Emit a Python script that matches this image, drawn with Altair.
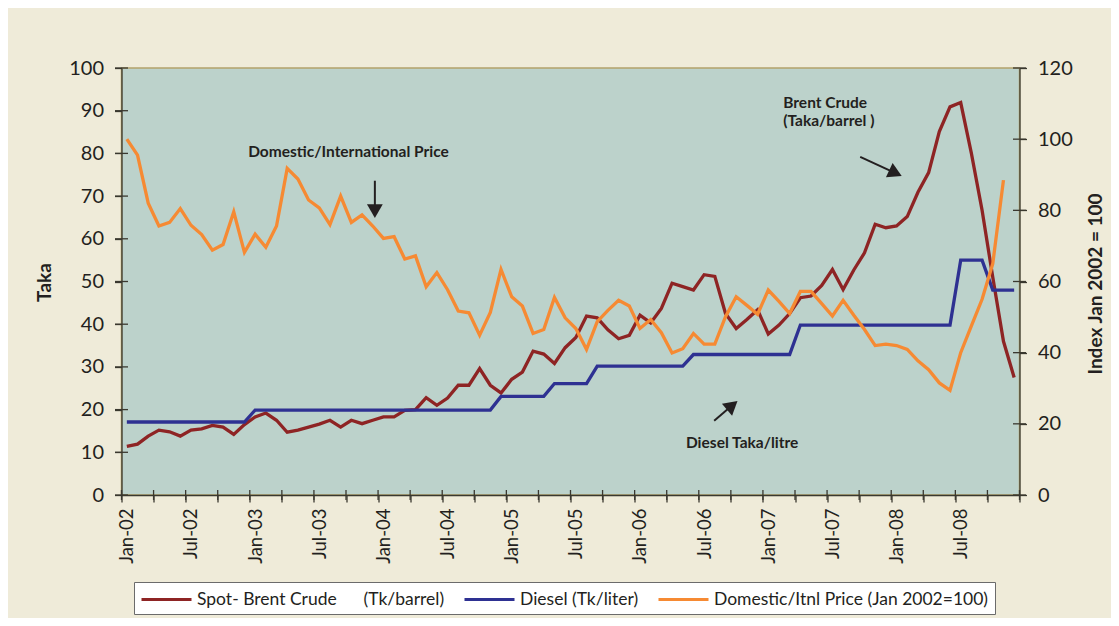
import json
import altair as alt
import pandas as pd

# ---------------- data ----------------
TICK_LABELS = ["Jan-02", "Jul-02", "Jan-03", "Jul-03", "Jan-04", "Jul-04", "Jan-05",
               "Jul-05", "Jan-06", "Jul-06", "Jan-07", "Jul-07", "Jan-08", "Jul-08"]
LEFT_TICKS = list(range(0, 101, 10))
RIGHT_TICKS = list(range(0, 121, 20))
X_TICKS = [-0.5 + 3 * k for k in range(29)]

# Spot Brent crude, Taka/barrel (left axis), Jan-02 .. Dec-08
BRENT = [11.4, 11.9, 13.8, 15.2, 14.8, 13.8, 15.2, 15.5, 16.3, 15.9, 14.2, 16.5,
         18.3, 19.2, 17.5, 14.7, 15.2, 15.9, 16.6, 17.5, 15.9, 17.5, 16.7, 17.5,
         18.3, 18.3, 19.8, 20.0, 22.8, 21.0, 22.7, 25.7, 25.7, 29.6, 25.7, 23.9,
         27.1, 28.8, 33.7, 33.0, 30.8, 34.5, 36.9, 41.9, 41.5, 38.7, 36.6, 37.4,
         42.1, 40.3, 43.7, 49.6, 48.8, 48.0, 51.6, 51.2, 42.5, 39.0, 41.1, 43.4,
         37.7, 39.8, 42.5, 46.2, 46.6, 49.1, 52.8, 48.1, 52.7, 56.7, 63.4, 62.6,
         63.0, 65.2, 70.9, 75.5, 85.1, 90.9, 91.9, 80.0, 66.7, 51.0, 36.0, 27.5]

# Diesel, Taka/litre (left axis), Jan-02 .. Dec-08
DIESEL = [17.1] * 12 + [19.9] * 23 + [23.1] * 5 + [26.1] * 4 + [30.2] * 9 + \
         [32.9] * 10 + [39.8] * 15 + [55.0] * 3 + [48.0] * 3

# Domestic / international price index, Jan 2002 = 100 (right axis), Jan-02 .. Nov-08
DOMESTIC = [100.0, 95.5, 82.0, 75.6, 76.6, 80.5, 75.8, 73.2, 68.8, 70.4, 79.6, 68.2,
            73.3, 69.6, 75.6, 91.8, 88.8, 82.9, 80.7, 76.0, 84.0, 76.6, 78.7, 75.6,
            72.1, 72.6, 66.3, 67.2, 58.5, 62.5, 57.7, 51.7, 51.2, 44.9, 51.3, 63.4,
            55.7, 53.1, 45.4, 46.5, 55.5, 49.8, 46.8, 40.9, 48.7, 51.9, 54.7, 53.1,
            46.8, 49.3, 45.6, 39.9, 41.1, 45.4, 42.4, 42.4, 50.1, 55.7, 53.3, 50.8,
            57.6, 54.4, 51.0, 57.2, 57.2, 53.8, 50.3, 54.7, 50.5, 46.5, 42.0, 42.4,
            42.0, 40.9, 37.7, 35.2, 31.5, 29.4, 40.0, 47.5, 55.0, 65.0, 88.5]

SERIES = ["Spot- Brent Crude" + "\u00a0" * 6 + "(Tk/barrel)",
          "Diesel (Tk/liter)",
          "Domestic/Itnl Price (Jan 2002=100)"]
COLORS = ["#8e2424", "#2e3192", "#f68a33"]

# annotations, placed in data units (month index, Taka)
ANNOT_TEXT = ["Domestic/International Price", "Brent Crude", "(Taka/barrel )", "Diesel Taka/litre"]
ANNOT_MONTH = [11.35, 61.4, 61.4, 52.3]
ANNOT_TAKA = [80.3, 91.8, 87.6, 12.2]

ARROW_MONTH = [23.2, 68.6, 54.94]
ARROW_TAKA = [73.6, 79.2, 17.4]
ARROW_HEAD_MONTH = [23.2, 71.9, 56.63]
ARROW_HEAD_TAKA = [66.5, 75.4, 21.0]
ARROW_ANGLE = [90, 25, 320]

# ---------------- tables ----------------
left_df = pd.DataFrame({
    "month": list(range(len(BRENT))) + list(range(len(DIESEL))),
    "value": BRENT + DIESEL,
    "series": [SERIES[0]] * len(BRENT) + [SERIES[1]] * len(DIESEL),
})
dom_df = pd.DataFrame({
    "month": list(range(len(DOMESTIC))),
    "value": DOMESTIC,
    "series": [SERIES[2]] * len(DOMESTIC),
})
annot_df = pd.DataFrame({"text": ANNOT_TEXT, "month": ANNOT_MONTH, "value": ANNOT_TAKA})
arrow_df = pd.DataFrame({"month": ARROW_MONTH, "value": ARROW_TAKA,
                         "month2": ARROW_HEAD_MONTH, "value2": ARROW_HEAD_TAKA,
                         "angle": ARROW_ANGLE})
left_tick_df = pd.DataFrame({"month": [X_TICKS[0]] * len(LEFT_TICKS), "value": LEFT_TICKS})
right_tick_df = pd.DataFrame({"month": [X_TICKS[-1]] * len(RIGHT_TICKS), "value": RIGHT_TICKS})
bottom_tick_df = pd.DataFrame({"month": X_TICKS, "value": [0] * len(X_TICKS)})

# ---------------- styling ----------------
FONT = "Lato"
INK = "#231f20"
AXIS_INK = "#3a382f"
W, H = 898, 427
MONTH_PX = W / 84.0

x_scale = alt.Scale(domain=[-0.5, 83.5], nice=False, zero=False)
left_scale = alt.Scale(domain=[0, 100], nice=False, zero=True)
right_scale = alt.Scale(domain=[0, 120], nice=False, zero=True)

label_expr = ("((datum.value + 0.5) % 6 == 0 && datum.value < 80) ? "
              + json.dumps(TICK_LABELS) + "[(datum.value + 0.5) / 6] : ''")

x_axis = alt.Axis(orient="bottom", values=X_TICKS,
                  labelExpr=label_expr,
                  labelAngle=270, labelOffset=MONTH_PX / 2, labelPadding=6,
                  labelFont=FONT, labelFontSize=18.5, labelColor=INK,
                  labelOverlap=False, labelFlush=False, labelBound=False,
                  tickSize=7, grid=False, title=None)

left_axis = alt.Axis(orient="left", values=LEFT_TICKS, grid=False,
                     tickSize=7, labelPadding=11, labelFont=FONT, labelFontSize=20,
                     labelColor=INK, title="Taka", titleFont=FONT, titleFontSize=19,
                     titleFontWeight="bold", titleColor=INK, titleAngle=270,
                     titleX=-77, titleY=214, titleAlign="center", titleBaseline="middle")

right_axis = alt.Axis(orient="right", values=RIGHT_TICKS, grid=False,
                      tickSize=7, labelPadding=11, labelFont=FONT, labelFontSize=20,
                      labelColor=INK, title="Index Jan 2002 = 100", titleFont=FONT,
                      titleFontSize=19, titleFontWeight="bold", titleColor=INK,
                      titleAngle=270, titleX=75.7, titleY=215.5, titleAlign="center",
                      titleBaseline="middle")

legend = alt.Legend(orient="none", legendX=12.5, legendY=514, direction="horizontal",
                    title=None, fillColor="white", strokeColor="#6b6b6b", padding=6,
                    symbolType="M-1,0H4", symbolSize=400, symbolStrokeWidth=3,
                    labelOffset=34, columnPadding=13, labelFont=FONT,
                    labelFontSize=17.5, labelColor=INK, labelLimit=0)

color = alt.Color("series:N", scale=alt.Scale(domain=SERIES, range=COLORS), legend=legend)

X = alt.X("month:Q", scale=x_scale, axis=x_axis)
Y_LEFT = alt.Y("value:Q", scale=left_scale, axis=left_axis)
Y_RIGHT = alt.Y("value:Q", scale=right_scale, axis=right_axis)

lines_left = alt.Chart(left_df).mark_line(strokeWidth=3.3).encode(
    x=X, y=Y_LEFT, color=color, detail="series:N",
)

texts = alt.Chart(annot_df).mark_text(font=FONT, fontSize=15.5, fontWeight="bold",
                                      color=INK, align="left", baseline="middle").encode(
    x=X, y=Y_LEFT, text="text:N",
)

arrow_lines = alt.Chart(arrow_df).mark_rule(strokeWidth=2, color=INK).encode(
    x=X, y=Y_LEFT, x2="month2:Q", y2="value2:Q",
)

arrow_heads = alt.Chart(arrow_df).mark_point(shape="triangle-right", filled=True,
                                             size=250, color=INK, opacity=1).encode(
    x=alt.X("month2:Q", scale=x_scale, axis=x_axis),
    y=alt.Y("value2:Q", scale=left_scale, axis=left_axis),
    angle=alt.Angle("angle:Q", scale=None),
)

# inner halves of the axis ticks (the reference's ticks cross the axis lines)
left_ticks = alt.Chart(left_tick_df).mark_tick(orient="horizontal", size=13,
                                               thickness=1.3, color=AXIS_INK,
                                               opacity=1).encode(x=X, y=Y_LEFT)
bottom_ticks = alt.Chart(bottom_tick_df).mark_tick(orient="vertical", size=10,
                                                   thickness=1.3, color=AXIS_INK,
                                                   opacity=1).encode(x=X, y=Y_LEFT)
right_ticks = alt.Chart(right_tick_df).mark_tick(orient="horizontal", size=13,
                                                 thickness=1.3, color=AXIS_INK,
                                                 opacity=1).encode(x=X, y=Y_RIGHT)

left_group = alt.layer(lines_left, texts, arrow_lines, arrow_heads, left_ticks, bottom_ticks)

orange = alt.Chart(dom_df).mark_line(strokeWidth=3.3).encode(
    x=X, y=Y_RIGHT, color=color,
)

right_group = alt.layer(orange, right_ticks)

chart = alt.layer(left_group, right_group).resolve_scale(y="independent").properties(
    width=W, height=H,
    autosize=alt.AutoSizeParams(type="none"),
    padding={"left": 113.5, "top": 60, "right": 91.5, "bottom": 123},
    background="#efebd9",
).configure_view(
    fill="#bcd2cb", stroke="#b3a36b", strokeWidth=1.5,
).configure_axis(
    domainColor=AXIS_INK, tickColor=AXIS_INK, domainWidth=1.3, tickWidth=1.3,
)

chart.save("out.html", embed_options={"renderer": "svg", "actions": False})
